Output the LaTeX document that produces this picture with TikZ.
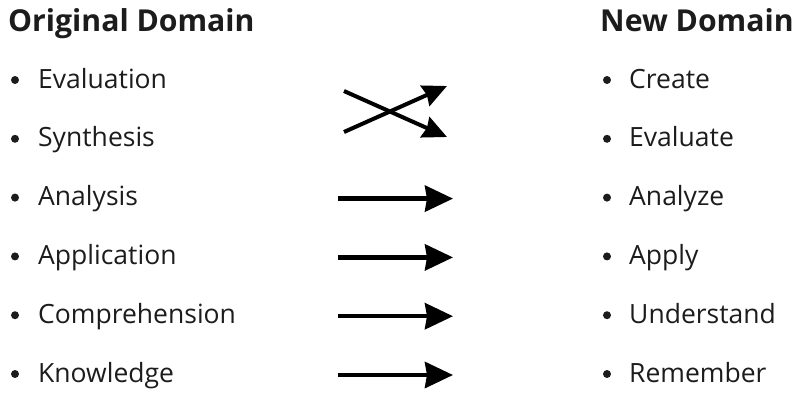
\documentclass[tikz,border=0pt]{standalone}
\usepackage{fontspec}
\setmainfont{Open Sans}[Ligatures=NoCommon]
\usetikzlibrary{arrows.meta}
\definecolor{ink}{HTML}{1C1C1C}
\begin{document}
\begin{tikzpicture}[x=1pt,y=-1pt,
  heading/.style={anchor=base west,inner sep=0pt,text=ink,font=\fontsize{30.2}{33}\selectfont\bfseries},
  item/.style={anchor=base west,inner sep=0pt,text=ink,font=\fontsize{26.5}{30}\selectfont},
  dot/.style={fill=ink,draw=none},
  mapto/.style={line width=4.5pt,-{Stealth[length=28pt,width=26pt,inset=2pt]}},
  swap/.style={line width=4pt,-{Stealth[length=24pt,width=22pt,inset=2pt]}}]
\useasboundingbox (0,0) rectangle (797,392);

% column headings
\node[heading] (hl) at (8,31) {Original Domain};
\node[heading] (hr) at (600,31) {New Domain};

% left list
\foreach \t [count=\i] in {Evaluation,Synthesis,Analysis,Application,Comprehension,Knowledge}{
  \pgfmathsetmacro{\yb}{88+58.8*(\i-1)}
  \fill[dot] (15,\yb-8) circle (4);
  \node[item] (l\i) at (38,\yb) {\t};
}
% right list
\foreach \t [count=\i] in {Create,Evaluate,Analyze,Apply,Understand,Remember}{
  \pgfmathsetmacro{\yb}{88+58.8*(\i-1)}
  \fill[dot] (607,\yb-8) circle (4);
  \node[item] (r\i) at (629,\yb) {\t};
}

% crossed mapping for the two top levels
\coordinate (s1) at (344,91);
\coordinate (e1) at (447,137);
\coordinate (s2) at (344,132);
\coordinate (e2) at (447,86);
\draw[swap] (s1) -- (e1);
\draw[swap] (s2) -- (e2);

% one-to-one mappings
\foreach \i in {3,...,6}{
  \pgfmathsetmacro{\ya}{81+58.8*(\i-1)}
  \coordinate (a\i) at (338,\ya);
  \coordinate (b\i) at (453,\ya);
  \draw[mapto] (a\i) -- (b\i);
}
\end{tikzpicture}
\end{document}
